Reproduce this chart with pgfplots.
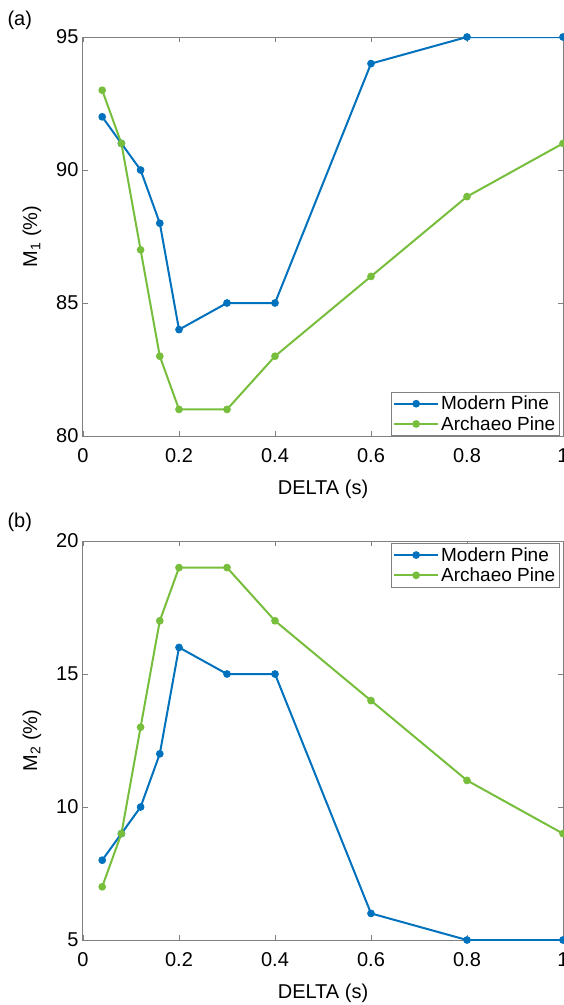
\documentclass[border=0pt]{standalone}
\usepackage{pgfplots}
\pgfplotsset{compat=1.18}
\usepackage{fontspec}
\setmainfont{Liberation Sans}
\definecolor{mblue}{RGB}{0,114,189}
\definecolor{mgreen}{RGB}{119,190,60}
\definecolor{axgray}{RGB}{128,128,128}

\pgfplotsset{
  mstyle/.style={
    scale only axis,
    width=480pt, height=399pt,
    xmin=0, xmax=1,
    xtick={0,0.2,0.4,0.6,0.8,1},
    xticklabels={0,0.2,0.4,0.6,0.8,1},
    axis line style={axgray, line width=1pt},
    tick style={axgray, line width=0.8pt},
    major tick length=5pt,
    tick align=inside,
    tick label style={font=\fontsize{20}{24}\selectfont, black},
    xticklabel style={yshift=-9pt},
    yticklabel style={xshift=-1pt},
    label style={font=\fontsize{20}{24}\selectfont},
    xlabel style={yshift=-10pt},
    ylabel style={yshift=8pt},
    /pgf/number format/assume math mode=true,
    xlabel={DELTA (s)},
    legend style={font=\fontsize{19}{23}\selectfont, draw=axgray, line width=0.8pt,
      inner sep=2pt, row sep=1pt, legend cell align=left},
    legend image code/.code={
      \draw[mark repeat=2, mark phase=2] plot coordinates {(0pt,0pt) (22pt,0pt) (44pt,0pt)};
    },
    every axis plot/.append style={line width=2pt, mark=*, mark size=2.8pt},
  },
}

\begin{document}
\begin{tikzpicture}[x=1pt,y=1pt]
\useasboundingbox (0,0) rectangle (564,-1005);

\begin{axis}[mstyle,
  at={(83pt,-436pt)}, anchor=south west,
  ymin=80, ymax=95, ytick={80,85,90,95},
  ylabel={M\textsubscript{1} (\%)},
  legend style={at={(0.993,0.0)}, anchor=south east},
]
\addplot[mblue, mark options={fill=mblue}] coordinates {
  (0.04,92) (0.08,91) (0.12,90) (0.16,88) (0.2,84)
  (0.3,85) (0.4,85) (0.6,94) (0.8,95) (1,95)};
\addlegendentry{Modern Pine}
\addplot[mgreen, mark options={fill=mgreen}] coordinates {
  (0.04,93) (0.08,91) (0.12,87) (0.16,83) (0.2,81)
  (0.3,81) (0.4,83) (0.6,86) (0.8,89) (1,91)};
\addlegendentry{Archaeo Pine}
\end{axis}

\begin{axis}[mstyle,
  at={(83pt,-940pt)}, anchor=south west,
  ymin=5, ymax=20, ytick={5,10,15,20},
  ylabel={M\textsubscript{2} (\%)},
  legend style={at={(0.993,0.995)}, anchor=north east},
]
\addplot[mblue, mark options={fill=mblue}] coordinates {
  (0.04,8) (0.08,9) (0.12,10) (0.16,12) (0.2,16)
  (0.3,15) (0.4,15) (0.6,6) (0.8,5) (1,5)};
\addlegendentry{Modern Pine}
\addplot[mgreen, mark options={fill=mgreen}] coordinates {
  (0.04,7) (0.08,9) (0.12,13) (0.16,17) (0.2,19)
  (0.3,19) (0.4,17) (0.6,14) (0.8,11) (1,9)};
\addlegendentry{Archaeo Pine}
\end{axis}

\node[font=\fontsize{20}{24}\selectfont, anchor=west] at (4,-20) {(a)};
\node[font=\fontsize{20}{24}\selectfont, anchor=west] at (4,-522) {(b)};
\end{tikzpicture}
\end{document}
